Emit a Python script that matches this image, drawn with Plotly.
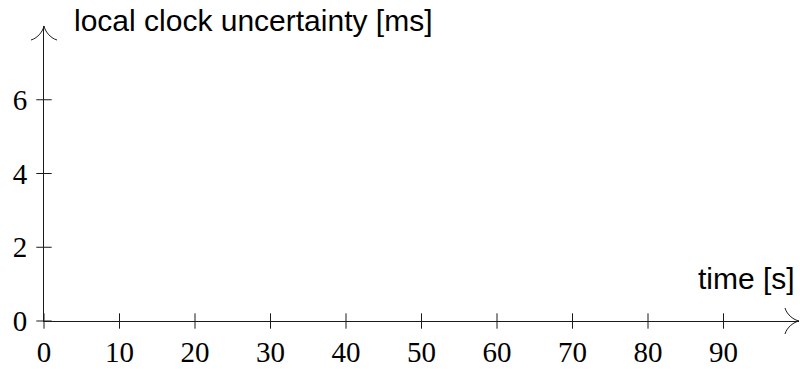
import plotly.graph_objects as go

# empty axes, only ticks and labels
x_ticks = [0, 10, 20, 30, 40, 50, 60, 70, 80, 90]
y_ticks = [0, 2, 4, 6]
x_max = 100
y_max = 8
x_title = "time [s]"
y_title = "local clock uncertainty [ms]"

ink = "#1a1a1a"
serif = "Liberation Serif, DejaVu Serif, serif"
sans = "Liberation Sans, Arial, sans-serif"

fig = go.Figure()

# tick marks that cross the axis lines
fig.add_trace(go.Scatter(
    x=x_ticks, y=[0] * len(x_ticks), mode="markers", cliponaxis=False,
    marker=dict(symbol="line-ns", size=11, line=dict(color=ink, width=1)),
    hoverinfo="skip", showlegend=False))
fig.add_trace(go.Scatter(
    x=[0] * len(y_ticks), y=y_ticks, mode="markers", cliponaxis=False,
    marker=dict(symbol="line-ew", size=11, line=dict(color=ink, width=1)),
    hoverinfo="skip", showlegend=False))

# arrow heads, drawn in pixels at the axis ends
head_x = "M -14,13 C -12,6 -5,1 0,0 C -5,-1 -12,-6 -14,-13"
head_y = "M -13,-14 C -6,-12 -1,-5 0,0 C 1,-5 6,-12 13,-14"
fig.add_shape(type="path", xref="paper", yref="paper",
              xsizemode="pixel", ysizemode="pixel", xanchor=1, yanchor=0,
              path=head_x, line=dict(color=ink, width=1))
fig.add_shape(type="path", xref="paper", yref="paper",
              xsizemode="pixel", ysizemode="pixel", xanchor=0, yanchor=1,
              path=head_y, line=dict(color=ink, width=1))

fig.add_annotation(text=y_title, xref="paper", yref="paper",
                   x=0.037, y=1.02, xanchor="left", yanchor="middle",
                   showarrow=False, font=dict(family=sans, size=30, color="black"))
fig.add_annotation(text=x_title, xref="paper", yref="paper",
                   x=0.997, y=0.143, xanchor="right", yanchor="middle",
                   showarrow=False, font=dict(family=sans, size=30, color="black"))

fig.update_xaxes(range=[0, x_max], tickvals=x_ticks, ticks="",
                 showline=True, linecolor=ink, linewidth=1,
                 showgrid=False, zeroline=False, ticklabelstandoff=5,
                 tickfont=dict(family=serif, size=29, color="black"))
fig.update_yaxes(range=[0, y_max], tickvals=y_ticks, ticks="",
                 showline=True, linecolor=ink, linewidth=1,
                 showgrid=False, zeroline=False, ticklabelstandoff=10,
                 tickfont=dict(family=serif, size=29, color="black"))

fig.update_layout(width=800, height=369, plot_bgcolor="white", paper_bgcolor="white",
                  margin=dict(l=44, r=1, t=26, b=43), showlegend=False)

# the page body has a default margin; drop it so the figure fills the window
fig.write_html("out.html", config={"displayModeBar": False},
               post_script="document.body.style.margin='0';")
